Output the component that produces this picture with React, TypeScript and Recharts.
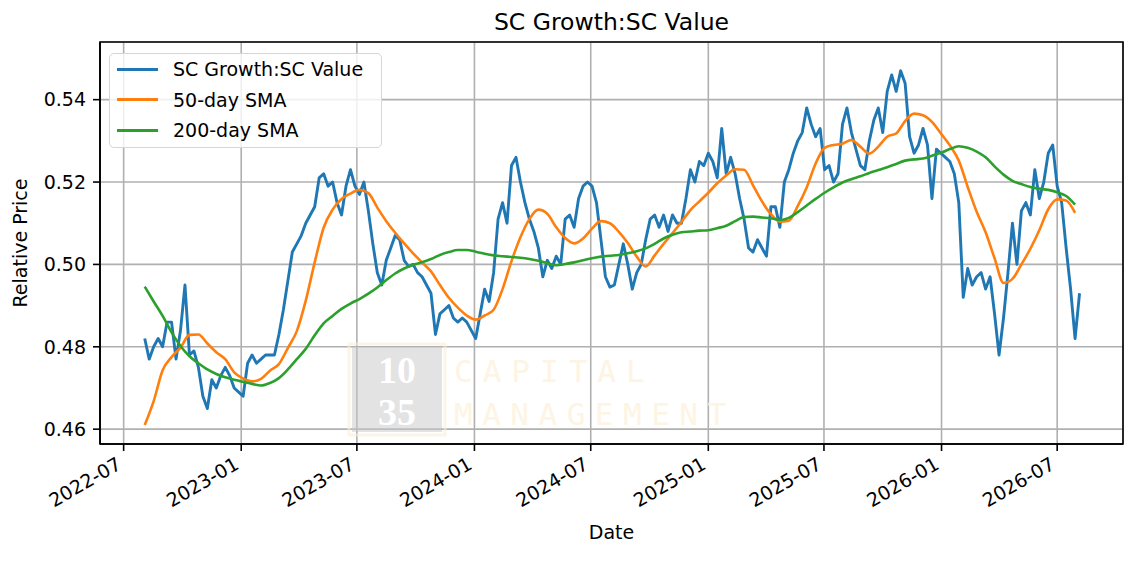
import React from 'react'
import {
  LineChart,
  Line,
  XAxis,
  YAxis,
  CartesianGrid,
  Legend,
  ReferenceArea,
  Label,
} from 'recharts'

const FONT = '"DejaVu Sans", Verdana, sans-serif'
const DAY = 86400000

// weekly closes of the SC Growth / SC Value ratio, first one on 2022-08-03
const GROWTH_START = Date.UTC(2022, 7, 3)
const GROWTH = [
  0.482, 0.477, 0.48, 0.482, 0.48, 0.486, 0.486, 0.477, 0.484, 0.495,
  0.478, 0.479, 0.475, 0.468, 0.465, 0.472, 0.47, 0.473, 0.475, 0.473,
  0.47, 0.469, 0.468, 0.476, 0.478, 0.476, 0.477, 0.478, 0.478, 0.478,
  0.483, 0.489, 0.496, 0.503, 0.505, 0.507, 0.51, 0.512, 0.514, 0.521,
  0.522, 0.519, 0.52, 0.515, 0.512, 0.519, 0.523, 0.519, 0.517, 0.52,
  0.513, 0.505, 0.498, 0.495, 0.501, 0.504, 0.507, 0.506, 0.501, 0.4995,
  0.5, 0.498, 0.497, 0.495, 0.493, 0.483, 0.488, 0.489, 0.49, 0.487,
  0.486, 0.487, 0.486, 0.484, 0.482, 0.488, 0.494, 0.491, 0.498, 0.511,
  0.515, 0.51, 0.524, 0.526, 0.52, 0.515, 0.511, 0.508, 0.504, 0.497,
  0.501, 0.499, 0.502, 0.5, 0.511, 0.512, 0.509, 0.516, 0.519, 0.52,
  0.519, 0.515, 0.506, 0.497, 0.4945, 0.495, 0.5, 0.505, 0.5, 0.494,
  0.498, 0.5, 0.506, 0.511, 0.512, 0.509, 0.512, 0.508, 0.512, 0.51,
  0.51, 0.516, 0.523, 0.52, 0.525, 0.524, 0.527, 0.525, 0.521, 0.533,
  0.522, 0.526, 0.522, 0.516, 0.511, 0.504, 0.503, 0.506, 0.504, 0.502,
  0.514, 0.514, 0.509, 0.52, 0.523, 0.527, 0.53, 0.532, 0.538, 0.534,
  0.531, 0.533, 0.523, 0.524, 0.52, 0.522, 0.534, 0.538, 0.532, 0.528,
  0.524, 0.523, 0.53, 0.535, 0.538, 0.532, 0.542, 0.546, 0.542, 0.547,
  0.544, 0.531, 0.527, 0.529, 0.533, 0.529, 0.516, 0.528, 0.527, 0.526,
  0.525, 0.522, 0.515, 0.492, 0.499, 0.495, 0.497, 0.498, 0.494, 0.497,
  0.488, 0.478, 0.487, 0.498, 0.51, 0.5, 0.513, 0.515, 0.512, 0.523,
  0.516, 0.52, 0.527, 0.529, 0.519, 0.515, 0.504, 0.494, 0.482, 0.493,
]

// moving averages, read every two weeks from the same start date
const SMA_STEP_DAYS = 14
const SMA50 = [
  0.461, 0.4668, 0.4743, 0.4775, 0.4798, 0.4829, 0.483, 0.4808, 0.4787, 0.477,
  0.4738, 0.4723, 0.4716, 0.4722, 0.4742, 0.4758, 0.4797, 0.4838, 0.4912, 0.5005,
  0.5089, 0.5133, 0.5159, 0.5172, 0.5181, 0.5173, 0.5138, 0.5105, 0.5077, 0.5051,
  0.5027, 0.5005, 0.4983, 0.495, 0.4919, 0.4895, 0.4876, 0.4866, 0.4876, 0.489,
  0.494, 0.5008, 0.5066, 0.511, 0.5133, 0.5123, 0.509, 0.5064, 0.5051, 0.5063,
  0.5087, 0.5105, 0.51, 0.5079, 0.5052, 0.5019, 0.4995, 0.5022, 0.505, 0.5076,
  0.5103, 0.5132, 0.5153, 0.5174, 0.5197, 0.5216, 0.5231, 0.523, 0.5192, 0.5153,
  0.5122, 0.5104, 0.5106, 0.5142, 0.5187, 0.5245, 0.5283, 0.529, 0.5293, 0.5302,
  0.5286, 0.5269, 0.5286, 0.531, 0.5318, 0.5348, 0.5366, 0.5362, 0.5346, 0.5318,
  0.5289, 0.5252, 0.5188, 0.5128, 0.5078, 0.5015, 0.4955, 0.4965, 0.5, 0.5038,
  0.5083, 0.5134, 0.5158, 0.5155, 0.5125,
]
const SMA200 = [
  0.4946, 0.491, 0.4875, 0.4835, 0.4802, 0.4777, 0.476, 0.4745, 0.4734, 0.4726,
  0.472, 0.4715, 0.471, 0.4706, 0.4712, 0.4724, 0.4745, 0.477, 0.4795, 0.4828,
  0.4857, 0.4875, 0.4892, 0.4905, 0.4916, 0.4929, 0.4944, 0.4962, 0.4978, 0.499,
  0.4999, 0.5005, 0.5013, 0.5023, 0.503, 0.5035, 0.5035, 0.5031, 0.5026, 0.5022,
  0.502, 0.5018, 0.5016, 0.5013, 0.5009, 0.5003, 0.4998, 0.5001, 0.5005, 0.501,
  0.5015, 0.5019, 0.5021, 0.5023, 0.5027, 0.5032, 0.5039, 0.505, 0.5063, 0.5072,
  0.5078, 0.508, 0.5082, 0.5083, 0.5088, 0.5094, 0.5105, 0.5115, 0.5116, 0.5114,
  0.5112, 0.5108, 0.5113, 0.5127, 0.5143, 0.5159, 0.5174, 0.5187, 0.5199, 0.5207,
  0.5214, 0.5222, 0.5229, 0.5236, 0.5244, 0.5252, 0.5255, 0.5257, 0.5264, 0.5271,
  0.528, 0.5287, 0.5283, 0.5274, 0.526, 0.5238, 0.5218, 0.5203, 0.5195, 0.5188,
  0.5184, 0.5181, 0.5175, 0.5166, 0.5145,
]

const X_TICK_LABELS = ['2022-07', '2023-01', '2023-07', '2024-01', '2024-07', '2025-01', '2025-07', '2026-01', '2026-07']
const Y_TICKS = [0.46, 0.48, 0.5, 0.52, 0.54]

const SERIES = [
  { name: 'SC Growth:SC Value', color: '#1f77b4' },
  { name: '50-day SMA', color: '#ff7f0e' },
  { name: '200-day SMA', color: '#2ca02c' },
]

const X_MIN = Date.UTC(2022, 4, 25)
const X_MAX = Date.UTC(2026, 9, 12)
const Y_MIN = 0.4564
const Y_MAX = 0.554

function parseMonth(label: string): number {
  const [y, m] = label.split('-').map(Number)
  return Date.UTC(y, m - 1, 1)
}

function fmtMonth(ms: number): string {
  const d = new Date(ms)
  return `${d.getUTCFullYear()}-${String(d.getUTCMonth() + 1).padStart(2, '0')}`
}

const X_TICKS = X_TICK_LABELS.map(parseMonth)
const growthData = GROWTH.map((v, i) => ({ t: GROWTH_START + i * 7 * DAY, v }))
const sma50Data = SMA50.map((v, i) => ({ t: GROWTH_START + i * SMA_STEP_DAYS * DAY, v }))
const sma200Data = SMA200.map((v, i) => ({ t: GROWTH_START + i * SMA_STEP_DAYS * DAY, v }))

function DateTick(props: any) {
  const { x, y, payload } = props
  return (
    <g transform={`translate(${x - 1},${y + 15})`}>
      <text transform="rotate(-30)" textAnchor="end" fill="#000" fontSize={19} fontFamily={FONT}>
        {fmtMonth(payload.value)}
      </text>
    </g>
  )
}

function LegendBox() {
  return (
    <div
      style={{
        width: 273,
        height: 95,
        boxSizing: 'border-box',
        border: '1.5px solid #d6d6d6',
        borderRadius: 5,
        background: 'rgba(255,255,255,0.8)',
        fontFamily: FONT,
        fontSize: 19,
        color: '#000',
      }}
    >
      {SERIES.map((s) => (
        <div key={s.name} style={{ display: 'flex', alignItems: 'center', height: 30.5 }}>
          <span style={{ display: 'inline-block', width: 41, height: 3, background: s.color, marginLeft: 7, marginRight: 15 }} />
          <span style={{ whiteSpace: 'nowrap' }}>{s.name}</span>
        </div>
      ))}
    </div>
  )
}

export default function App() {
  return (
    <div style={{ position: 'absolute', left: 0, top: 0, width: 1136, height: 570, background: '#fff' }}>
      <LineChart width={1136} height={570} margin={{ top: 42, right: 13, bottom: 26, left: 10 }}>
        <CartesianGrid stroke="#b0b0b0" strokeWidth={1.6} />
        <XAxis
          type="number"
          dataKey="t"
          domain={[X_MIN, X_MAX]}
          ticks={X_TICKS}
          interval={0}
          allowDataOverflow
          height={100}
          tick={<DateTick />}
          tickSize={7}
          tickLine={{ stroke: '#000', strokeWidth: 1.6 }}
          axisLine={{ stroke: '#000', strokeWidth: 1.6 }}
        >
          <Label value="Date" position="insideBottom" offset={5} fill="#000" fontSize={19} fontFamily={FONT} />
        </XAxis>
        <YAxis
          type="number"
          domain={[Y_MIN, Y_MAX]}
          ticks={Y_TICKS}
          allowDataOverflow
          width={90}
          tickFormatter={(v: number) => v.toFixed(2)}
          tick={{ fill: '#000', fontSize: 19, fontFamily: FONT }}
          tickSize={7}
          tickMargin={7}
          tickLine={{ stroke: '#000', strokeWidth: 1.6 }}
          axisLine={{ stroke: '#000', strokeWidth: 1.6 }}
        >
          <Label
            value="Relative Price"
            angle={-90}
            position="insideLeft"
            offset={10}
            fill="#000"
            fontSize={19}
            fontFamily={FONT}
            style={{ textAnchor: 'middle' }}
          />
        </YAxis>
        <Legend
          layout="horizontal"
          verticalAlign="middle"
          align="center"
          content={<LegendBox />}
          wrapperStyle={{ position: 'absolute', left: 109, top: 53, width: 273, height: 95 }}
        />
        <Line
          data={growthData}
          dataKey="v"
          name={SERIES[0].name}
          type="linear"
          stroke={SERIES[0].color}
          strokeWidth={2.9}
          strokeLinejoin="round"
          dot={false}
          isAnimationActive={false}
        />
        <Line
          data={sma50Data}
          dataKey="v"
          name={SERIES[1].name}
          type="monotone"
          stroke={SERIES[1].color}
          strokeWidth={2.6}
          dot={false}
          isAnimationActive={false}
        />
        <Line
          data={sma200Data}
          dataKey="v"
          name={SERIES[2].name}
          type="monotone"
          stroke={SERIES[2].color}
          strokeWidth={2.6}
          dot={false}
          isAnimationActive={false}
        />
        <ReferenceArea
          x1={X_MIN}
          x2={X_MAX}
          y1={Y_MIN}
          y2={Y_MAX}
          fill="none"
          stroke="#000"
          strokeWidth={1.6}
          ifOverflow="visible"
        />
      </LineChart>

      {/* title + faint company watermark, drawn over the chart like the original */}
      <svg width={1136} height={570} style={{ position: 'absolute', left: 0, top: 0, pointerEvents: 'none' }}>
        <text x={611.5} y={29.5} textAnchor="middle" fontSize={23.5} fontFamily={FONT} fill="#000">
          SC Growth:SC Value
        </text>
        <g>
          <rect x={349} y={344} width={96} height={91} fill="none" stroke="rgba(250,238,215,0.6)" strokeWidth={3} />
          <rect x={352} y={347} width={90} height={85} fill="rgba(200,200,200,0.5)" />
          <text x={397} y={383} textAnchor="middle" fontSize={38} fontWeight="bold" fontFamily='"Liberation Serif", serif' fill="#fff">
            10
          </text>
          <text x={397} y={425} textAnchor="middle" fontSize={38} fontWeight="bold" fontFamily='"Liberation Serif", serif' fill="#fff">
            35
          </text>
          <text x={454} y={382} fontSize={31} letterSpacing={10} fontFamily='"DejaVu Sans Mono", monospace' fill="#fdf4e4">
            CAPITAL
          </text>
          <text x={454} y={425} fontSize={31} letterSpacing={9.5} fontFamily='"DejaVu Sans Mono", monospace' fill="#fdf4e4">
            MANAGEMENT
          </text>
        </g>
      </svg>
    </div>
  )
}
